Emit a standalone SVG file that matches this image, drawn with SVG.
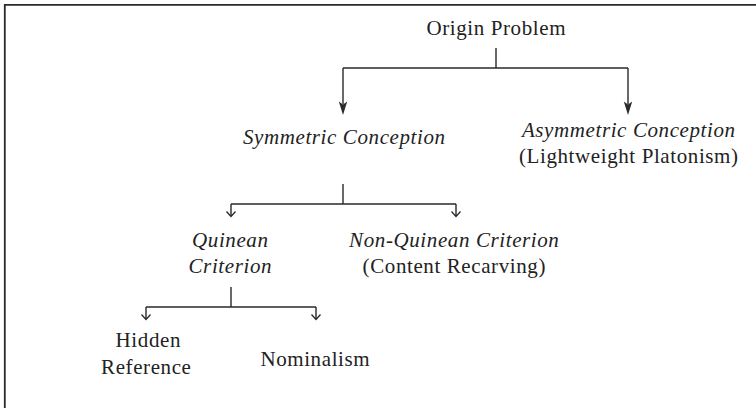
<svg xmlns="http://www.w3.org/2000/svg" width="756" height="408" viewBox="0 0 756 408">
<style>
text{font-family:"Liberation Serif","Times New Roman",serif;font-size:21px;letter-spacing:0.6px;fill:#222;text-anchor:middle}
.it{font-style:italic}
.c{fill:none;stroke:#2a2a2a;stroke-width:1.4}
.ah{fill:#2a2a2a;stroke:none}
.oa{fill:none;stroke:#2a2a2a;stroke-width:1.3}
</style>
<rect width="756" height="408" fill="#fff"/>
<path d="M4.8 408V4.8H756" fill="none" stroke="#2a2a2a" stroke-width="1.8"/>
<g id="connectors">
<path class="c" d="M496 48V68M343 68H628M343 68V104M628 68V104"/>
<path class="ah" d="M343 115L338.8 101.5L343 104.5L347.2 101.5Z"/>
<path class="ah" d="M628 115L623.8 101.5L628 104.5L632.2 101.5Z"/>
<path class="c" d="M343 184V204M231 204H456M231 204V216M456 204V216"/>
<path class="oa" d="M226.5 211.5L231 216.5L235.5 211.5M451.5 211.5L456 216.5L460.5 211.5"/>
<path class="c" d="M231 287V307M146 307H316M146 307V319M316 307V319"/>
<path class="oa" d="M141.5 314.5L146 319.5L150.5 314.5M311.5 314.5L316 319.5L320.5 314.5"/>
</g>
<g id="origin"><text x="496.3" y="35">Origin Problem</text></g>
<g id="symmetric"><text class="it" x="344.3" y="144">Symmetric Conception</text></g>
<g id="asymmetric"><text class="it" x="628.8" y="137">Asymmetric Conception</text><text x="628.8" y="163">(Lightweight Platonism)</text></g>
<g id="quinean"><text class="it" x="230.3" y="247">Quinean</text><text class="it" x="230.3" y="273">Criterion</text></g>
<g id="nonquinean"><text class="it" x="454.3" y="247">Non-Quinean Criterion</text><text x="454.3" y="273">(Content Recarving)</text></g>
<g id="hidden"><text x="148.3" y="347">Hidden</text><text x="146.3" y="374">Reference</text></g>
<g id="nominalism"><text x="315.3" y="366">Nominalism</text></g>
</svg>
